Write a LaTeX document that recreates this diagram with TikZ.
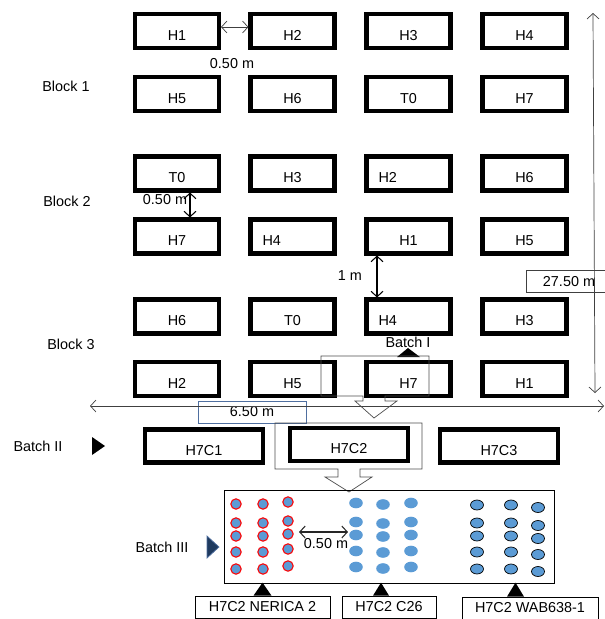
\documentclass[tikz,border=0pt]{standalone}
\usepackage{fontspec}
\setmainfont{Liberation Sans}
\usetikzlibrary{arrows.meta}
\definecolor{dotblue}{HTML}{5B9BD5}
\definecolor{navy}{HTML}{1F3A5F}
\definecolor{edgeblue}{HTML}{4F6FA0}
\tikzset{
  plot/.style={draw, line width=2.3pt, minimum width=1.68cm, minimum height=0.68cm, inner sep=0pt,
    text height=10.4pt, text depth=0pt},
  plotl/.style={plot, text width=1.2cm, align=left, inner xsep=0.24cm},
  plotwide/.style={plot, minimum width=2.36cm, minimum height=0.66cm},
  tag/.style={draw, thin, minimum height=0.44cm, inner sep=0pt},
  dim/.style={<->, thin, black!75},
  >={Straight Barb[length=1.1mm,width=2.4mm]}
}
\begin{document}
\begin{tikzpicture}[x=0.02cm, y=-0.02cm, font=\fontsize{8.2}{9.8}\selectfont]
  \useasboundingbox (0,0) rectangle (605,619);

  % Block 1: two rows of plots
  \node[plot] (r1c1) at (177,31) {H1};
  \node[plot] (r1c2) at (292.5,31) {H2};
  \node[plot] (r1c3) at (408.5,31) {H3};
  \node[plot] (r1c4) at (524.5,31) {H4};
  \node[plot] (r2c1) at (177,94) {H5};
  \node[plot] (r2c2) at (292.5,94) {H6};
  \node[plot] (r2c3) at (408.5,94) {T0};
  \node[plot] (r2c4) at (524.5,94) {H7};
  \node (blk1) at (66,86) {Block 1};

  % Block 2
  \node[plot]  (r3c1) at (177,173.5) {T0};
  \node[plot]  (r3c2) at (292.5,173.5) {H3};
  \node[plotl] (r3c3) at (408.5,173.5) {H2};
  \node[plot]  (r3c4) at (524.5,173.5) {H6};
  \node[plot]  (r4c1) at (177,236.5) {H7};
  \node[plotl] (r4c2) at (292.5,236.5) {H4};
  \node[plot]  (r4c3) at (408.5,236.5) {H1};
  \node[plot]  (r4c4) at (524.5,236.5) {H5};
  \node (blk2) at (67,201) {Block 2};

  % Block 3
  \node[plot]  (r5c1) at (177,316.5) {H6};
  \node[plot]  (r5c2) at (292.5,316.5) {T0};
  \node[plotl] (r5c3) at (408.5,316.5) {H4};
  \node[plot]  (r5c4) at (524.5,316.5) {H3};
  \node[plot]  (r6c1) at (177,379) {H2};
  \node[plot]  (r6c2) at (292.5,379) {H5};
  \node[plot]  (r6c3) at (408.5,379) {H7};
  \node[plot]  (r6c4) at (524.5,379) {H1};
  \node (blk3) at (71,344) {Block 3};

  % spacings between plots and blocks
  \draw[dim] ([yshift=0.08cm]r1c1.east) -- ([yshift=0.08cm]r1c2.west);
  \node (gap1) at (232,64) {0.50 m};
  \draw[<->, semithick] ([xshift=0.26cm]r3c1.south) -- ([xshift=0.26cm]r4c1.north);
  \node (gap2) at (165,200) {0.50 m};
  \draw[<->, semithick] ([xshift=-0.63cm]r4c3.south) -- ([xshift=-0.63cm]r5c3.north);
  \node (gap3) at (350,276) {1 m};

  % field size
  \node[tag, draw=black!75, minimum width=1.72cm] (len) at (569,281.5) {27.50 m};
  \node[tag, draw=edgeblue, minimum width=2.16cm] (wid) at (252,412) {6.50 m};
  \coordinate (topend) at (593,13);
  \coordinate (botend) at (595,393);
  \coordinate (lftend) at (90,406);
  \coordinate (rgtend) at (604,406);
  \draw[dim] (topend) -- (botend);
  \draw[dim] (lftend) -- (rgtend);

  % Batch I: callout from plot H7
  \node (bat1) at (408,342) {Batch I};
  \fill (397,357) -- (408,348) -- (420,357) -- cycle;
  \draw[thin, black!70] (321,356) -- (429,356) -- (429,396) -- (385,396) -- (385,401)
    -- (397,401) -- (374,418) -- (355,401) -- (363,401) -- (363,396) -- (321,396) -- cycle;

  % Batch II: subplots of H7
  \node (bat2) at (38,446) {Batch II};
  \fill (92,437) -- (105,446) -- (92,455) -- cycle;
  \node[plotwide] (c1) at (204,446) {H7C1};
  \node[plotwide] (c2) at (349,444.5) {H7C2};
  \node[plotwide] (c3) at (499,446) {H7C3};
  \draw[thin, black!70] (275,423) -- (422,423) -- (422,469) -- (360,469) -- (360,477)
    -- (372,477) -- (349,492) -- (325,477) -- (338,477) -- (338,469) -- (275,469) -- cycle;

  % Batch III: varieties in H7C2
  \node (bat3) at (162,547) {Batch III};
  \filldraw[fill=navy, draw=edgeblue] (207,536) -- (219,547) -- (207,558) -- cycle;
  \draw[thin] (224,490) rectangle (554,583);
  \foreach \x in {236,263} {
    \foreach \y in {504,523,536,552,569}
      \filldraw[fill=dotblue, draw=red, semithick] (\x,\y) circle (5.2);
  }
  \foreach \y in {502,521,534,549,566}
    \filldraw[fill=dotblue, draw=red, semithick] (288,\y) circle (5.2);
  \foreach \x/\d in {356/0,383/1.5,411/0} {
    \foreach \y in {503,522,535,551,567}
      \fill[dotblue] (\x,\y+\d) ellipse (6.8 and 5.3);
  }
  \foreach \x/\d in {477/0,511/0,538/2.5} {
    \foreach \y in {505,523,536,552,569}
      \filldraw[fill=dotblue, draw=black, thin] (\x,\y+\d) ellipse (6.5 and 5);
  }
  \coordinate (rowa) at (299,532);
  \coordinate (rowb) at (348,532);
  \draw[<->, semithick, black!85] (rowa) -- (rowb);
  \node (gap4) at (326,544) {0.50 m};

  % variety tags
  \node[tag, minimum width=2.7cm] (v1) at (262.5,607) {H7C2 NERICA 2};
  \node[tag, minimum width=1.88cm] (v2) at (389,607) {H7C2 C26};
  \node[tag, minimum width=2.72cm] (v3) at (530,608) {H7C2 WAB638-1};
  \fill ([xshift=-0.18cm]v1.north) -- ++(9,-13) -- ++(9,13) -- cycle;
  \fill ([xshift=-0.32cm]v2.north) -- ++(8,-13) -- ++(8,13) -- cycle;
  \fill ([xshift=-0.46cm]v3.north) -- ++(8.5,-14) -- ++(8.5,14) -- cycle;
\end{tikzpicture}
\end{document}
